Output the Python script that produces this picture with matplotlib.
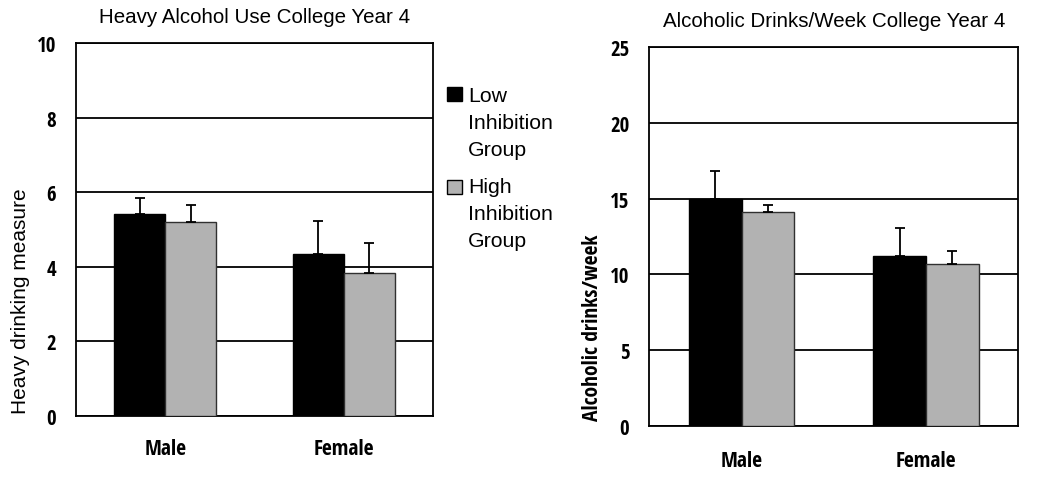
import numpy as np
import matplotlib
matplotlib.use("Agg")
import matplotlib.pyplot as plt
from matplotlib import font_manager
from matplotlib.patches import Rectangle

# data
categories = ["Male", "Female"]
groups = ["Low\nInhibition\nGroup", "High\nInhibition\nGroup"]

heavy_low = [5.42, 4.35]
heavy_low_err = [0.42, 0.87]
heavy_high = [5.21, 3.84]
heavy_high_err = [0.46, 0.81]

drinks_low = [15.0, 11.22]
drinks_low_err = [1.80, 1.86]
drinks_high = [14.14, 10.71]
drinks_high_err = [0.45, 0.82]

REG = "Liberation Sans"
plt.rcParams["font.family"] = REG

# the bold labels in the reference are a narrow bold face; use one if installed
narrow_path = None
for f in font_manager.fontManager.ttflist:
    w = f.weight if isinstance(f.weight, int) else 700 * (f.weight == "bold")
    if ("Narrow" in f.name or "Condensed" in f.name or f.stretch in ("condensed", "semi-condensed")) \
            and w >= 600 and ("Liberation" in f.name or "Roboto" in f.name or "Noto Sans" in f.name
                              or "Open Sans" in f.name or "Arial" in f.name):
        narrow_path = f.fname
        break


def bold_font(size, size_fallback):
    if narrow_path:
        return font_manager.FontProperties(fname=narrow_path, size=size)
    return font_manager.FontProperties(family=REG, weight="bold", size=size_fallback)


colors = ["black", "#b2b2b2"]
edges = ["black", "#303030"]

fig = plt.figure(figsize=(10.5, 4.89), dpi=100)
ax1 = fig.add_axes([0.0724, 0.1479, 0.3400, 0.7615])
ax2 = fig.add_axes([0.6184, 0.1262, 0.3514, 0.7763])

x = np.arange(len(categories))
w = 0.285


def panel(ax, low, low_err, high, high_err, ymax, step, title, xpad):
    z = np.zeros(len(low))
    ekw = dict(ecolor="black", elinewidth=1.3, capsize=3.5, capthick=1.3)
    ax.bar(x - w / 2, low, w, color=colors[0], edgecolor=edges[0], linewidth=1,
           yerr=[z, low_err], error_kw=ekw, zorder=3)
    ax.bar(x + w / 2, high, w, color=colors[1], edgecolor=edges[1], linewidth=1,
           yerr=[z, high_err], error_kw=ekw, zorder=3)
    ax.set_xlim(-0.5, 1.5)
    ax.set_ylim(0, ymax)
    ax.set_yticks(np.arange(0, ymax + step / 2, step))
    ax.grid(axis="y", color="black", linewidth=1.3, zorder=0)
    ax.set_axisbelow(True)
    for s in ax.spines.values():
        s.set_linewidth(1.3)
    ax.set_xticks(x)
    ax.set_xticklabels(categories, fontproperties=bold_font(15.5, 14))
    ax.tick_params(axis="x", length=0, pad=xpad)
    ax.tick_params(axis="y", length=0, pad=14.4)
    for lab in ax.get_yticklabels():
        lab.set_fontproperties(bold_font(15, 14.5))
    ax.set_title(title, fontsize=14.8, pad=15)


panel(ax1, heavy_low, heavy_low_err, heavy_high, heavy_high_err, 10, 2,
      "Heavy Alcohol Use College Year 4", 16)
panel(ax2, drinks_low, drinks_low_err, drinks_high, drinks_high_err, 25, 5,
      "Alcoholic Drinks/Week College Year 4", 17)

ax1.set_ylabel("Heavy drinking measure", fontsize=15, va="center")
ax1.yaxis.set_label_coords(-0.156, 0.309)
ax2.set_ylabel("Alcoholic drinks/week", fontproperties=bold_font(15.5, 13.3), va="center")
ax2.yaxis.set_label_coords(-0.155, 0.262)

# legend drawn by hand so the square sits beside the first line
W, H = 1050, 489
sq_top = [88, 181]
first_base = [102.3, 193.3]
for i, lab in enumerate(groups):
    fig.add_artist(Rectangle((447 / W, 1 - (sq_top[i] + 14) / H), 15 / W, 14 / H,
                             transform=fig.transFigure, facecolor=colors[i],
                             edgecolor="black", linewidth=1))
    for j, line in enumerate(lab.split("\n")):
        fig.text(468 / W, 1 - (first_base[i] + j * 26.8) / H, line,
                 fontsize=15.3, va="baseline", ha="left")

fig.savefig("out.png", dpi=100)
